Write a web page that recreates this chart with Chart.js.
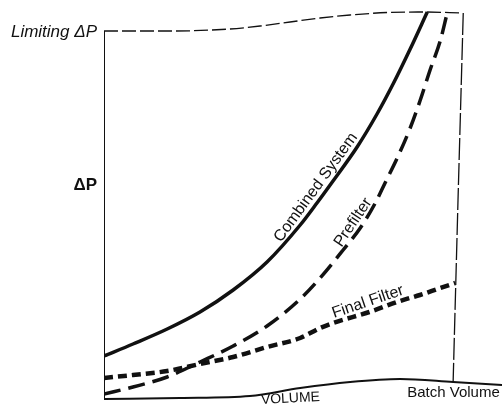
<!DOCTYPE html>
<html>
<head>
<meta charset="utf-8">
<script src="https://cdn.jsdelivr.net/npm/chart.js@4/dist/chart.umd.min.js"></script>
<style>
  html, body { margin: 0; padding: 0; background: #fff; }
  canvas { display: block; }
</style>
</head>
<body>
<canvas id="chart" width="502" height="413"></canvas>
<script>
// x = volume (% of batch volume), y = pressure drop (arbitrary scale)
const combinedX  = [0, 8.3, 18.1, 27.5, 37, 46.7, 56.2, 61, 65.6, 72.5, 78.2, 82.8, 87.7, 92.6]
const combinedY  = [11, 14, 17.75, 22, 27.5, 34.5, 43.75, 49.25, 54.75, 63.25, 71.5, 79, 87.75, 97]

const prefilterX = [0, 8.3, 18.1, 27.5, 37, 46.7, 56.2, 61.9, 68.5, 73.4, 77.7, 80.5, 84, 87.7, 90.5, 93.4, 96.3, 98.3]
const prefilterY = [1.5, 3.25, 5.75, 9.5, 13.5, 18.5, 25.25, 30.5, 37.5, 43, 49.25, 54.25, 60.5, 68, 74.75, 82.5, 89.75, 96.75]

const finalX     = [0, 8.3, 18.1, 27.5, 37, 46.7, 56.2, 61.9, 65.6, 76, 84.8, 90.5, 96.3, 100.6]
const finalY     = [5.5, 6.25, 7.25, 9, 10.75, 13.25, 15.5, 18, 19.25, 22, 24.75, 26.25, 28, 29.25]

// frame of the sketch: limiting dP line, batch volume line, axes
const limitX     = [0, 18.9, 36.1, 44.7, 53.3, 61.9, 70.5, 81.9, 92, 102.6]
const limitY     = [92.25, 92.25, 92.75, 93.5, 94.5, 95.5, 96.25, 96.9, 97, 96.75]
const batchX     = [102.9, 101.4, 100]
const batchY     = [96.75, 50, 4.5]
const baseX      = [0, 21.8, 41.8, 56.2, 70.5, 84.8, 100, 114]
const baseY      = [0.25, 0.5, 1, 3, 4.5, 5.25, 4.5, 3.75]
const yAxisX     = [0, 0]
const yAxisY     = [0.25, 92.25]

const yTickValues = [53.75, 92]
const yTickLabels = ["ΔP", "Limiting ΔP"]
const xTickValues = [53, 100.3]
const xTickLabels = ["VOLUME", "Batch Volume"]
const seriesNames = ["Combined System", "Prefilter", "Final Filter"]

const toPoints = (xs, ys) => xs.map((x, i) => ({x: x, y: ys[i]}))

function lineSet(label, xs, ys, width, dash, smooth){
    return {
        label: label,
        data: toPoints(xs, ys),
        borderColor: "#111",
        borderWidth: width,
        borderDash: dash,
        borderCapStyle: "butt",
        pointRadius: 0,
        fill: false,
        cubicInterpolationMode: smooth ? "monotone" : "default",
        tension: 0
    }
}

// y of a dataset at a given x, straight between the stored points
function valueAt(xs, ys, x){
    for(let i = 1; i < xs.length; i++){
        if(x <= xs[i]){
            const t = (x - xs[i-1]) / (xs[i] - xs[i-1])
            return ys[i-1] + t * (ys[i] - ys[i-1])
        }
    }
    return ys[ys.length - 1]
}

const curveText = {
    id: "curveText",
    afterDatasetsDraw(chart, args, opts){
        const ctx = chart.ctx
        const sx = chart.scales.x, sy = chart.scales.y
        ctx.save()
        ctx.fillStyle = "#111"
        ctx.textAlign = "center"
        ctx.textBaseline = "middle"
        for(const lab of opts.labels){
            const ds = chart.data.datasets[lab.dataset]
            const xs = ds.data.map(p => p.x), ys = ds.data.map(p => p.y)
            const px = sx.getPixelForValue(lab.at)
            const py = sy.getPixelForValue(valueAt(xs, ys, lab.at))
            const ax = sx.getPixelForValue(lab.at - 1.5), ay = sy.getPixelForValue(valueAt(xs, ys, lab.at - 1.5))
            const bx = sx.getPixelForValue(lab.at + 1.5), by = sy.getPixelForValue(valueAt(xs, ys, lab.at + 1.5))
            let dx = bx - ax, dy = by - ay
            const len = Math.hypot(dx, dy)
            dx /= len; dy /= len
            const angle = lab.angle !== undefined ? lab.angle * Math.PI / 180 : Math.atan2(dy, dx)
            ctx.save()
            ctx.translate(px + dy * lab.offset, py - dx * lab.offset)
            ctx.rotate(angle)
            ctx.font = lab.font
            ctx.fillText(lab.text, 0, 0)
            ctx.restore()
        }
        ctx.restore()
    }
}

const labelFont = "16px 'Liberation Sans', Arial, sans-serif"

const chart = new Chart(document.getElementById("chart"), {
    type: "line",
    data: {
        datasets: [
            lineSet(seriesNames[0], combinedX, combinedY, 3.5, [], true),
            lineSet(seriesNames[1], prefilterX, prefilterY, 3.5, [17, 8], true),
            lineSet(seriesNames[2], finalX, finalY, 4.5, [9, 5], true),
            lineSet("limit", limitX, limitY, 1.3, [14, 4], true),
            lineSet("batch", batchX, batchY, 1.3, [22, 3], false),
            lineSet("base", baseX, baseY, 2, [], true),
            lineSet("yaxis", yAxisX, yAxisY, 2, [], false)
        ]
    },
    options: {
        responsive: false,
        animation: false,
        devicePixelRatio: 1,
        layout: { padding: { top: 0, right: 0, bottom: 13, left: 0 } },
        plugins: {
            legend: { display: false },
            tooltip: { enabled: false },
            curveText: {
                labels: [
                    { dataset: 0, text: seriesNames[0], at: 63, offset: 10, font: labelFont },
                    { dataset: 1, text: seriesNames[1], at: 73.5, offset: 9, font: labelFont },
                    { dataset: 2, text: seriesNames[2], at: 76.5, offset: 10, font: labelFont },
                    { dataset: 5, text: xTickLabels[0], at: xTickValues[0], offset: -9, angle: -3, font: "14px 'Liberation Sans', Arial, sans-serif" },
                    { dataset: 5, text: xTickLabels[1], at: xTickValues[1], offset: -11, angle: 0, font: "15px 'Liberation Sans', Arial, sans-serif" }
                ]
            }
        },
        scales: {
            x: {
                type: "linear",
                min: 0,
                max: 114,
                display: false
            },
            y: {
                type: "linear",
                min: 0,
                max: 100,
                border: { display: false },
                grid: { display: false, drawTicks: false },
                afterBuildTicks: scale => { scale.ticks = yTickValues.map(v => ({value: v})) },
                afterFit: scale => {
                    scale.width = 104
                    scale.paddingTop = 0
                    scale.paddingBottom = 0
                },
                ticks: {
                    autoSkip: false,
                    padding: 7,
                    color: "#111",
                    callback: (value) => yTickLabels[yTickValues.indexOf(value)],
                    font: ctx => ctx.index === 1
                        ? { family: "'Liberation Sans', Arial, sans-serif", size: 17, style: "italic", weight: "normal" }
                        : { family: "'Liberation Sans', Arial, sans-serif", size: 17, weight: "bold" }
                }
            }
        }
    },
    plugins: [curveText]
})
</script>
</body>
</html>
